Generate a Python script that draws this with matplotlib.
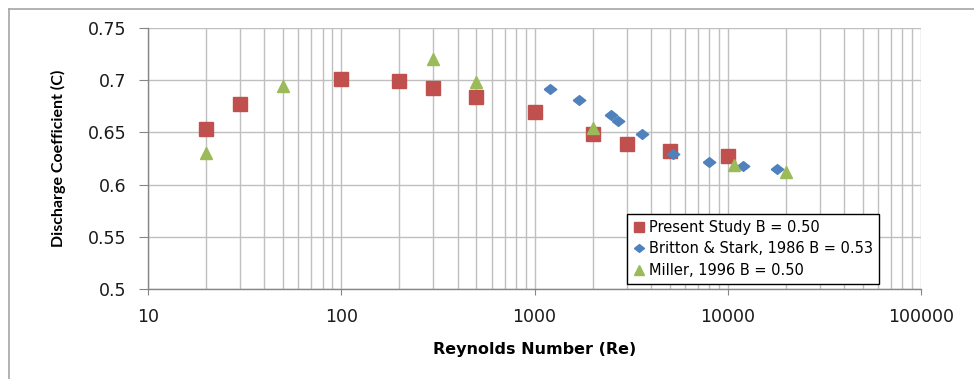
"""Discharge coefficient vs Reynolds number"""
import matplotlib
matplotlib.use("Agg")
import matplotlib.pyplot as plt
from matplotlib.lines import Line2D
from matplotlib.ticker import LogLocator, FixedLocator, NullFormatter

plt.rcParams['font.family'] = ['DejaVu Sans']

# Present Study B = 0.50
present_re = [20, 30, 100, 200, 300, 500, 1000, 2000, 3000, 5000, 10000]
present_c = [0.653, 0.677, 0.701, 0.699, 0.693, 0.684, 0.670, 0.648, 0.639, 0.632, 0.627]

# Britton & Stark, 1986 B = 0.53
britton_re = [1200, 1700, 2500, 2700, 3600, 5200, 8000, 12000, 18000]
britton_c = [0.692, 0.681, 0.667, 0.661, 0.648, 0.629, 0.622, 0.618, 0.615]

# Miller, 1996 B = 0.50
miller_re = [20, 50, 300, 500, 2000, 10800, 20000]
miller_c = [0.630, 0.694, 0.720, 0.698, 0.654, 0.619, 0.612]

x_ticks = [10, 100, 1000, 10000, 100000]
x_labels = ['10', '100', '1000', '10000', '100000']
y_ticks = [0.5, 0.55, 0.6, 0.65, 0.7, 0.75]
y_labels = ['0.5', '0.55', '0.6', '0.65', '0.7', '0.75']

colors = {
    'present': '#C0504D',
    'britton': '#4F81BD',
    'miller': '#9BBB59',
    'grid': '#BFBFBF',
    'axis': '#868686',
}

W, H = 974, 379
fig = plt.figure(figsize=(W / 100, H / 100), dpi=100)
ax = fig.add_axes([148 / W, 1 - 289 / H, (921 - 148) / W, (289 - 28) / H])

# Excel style flat diamond
diamond = [(-1, 0), (0, 0.78), (1, 0), (0, -0.78), (-1, 0)]

ax.plot(present_re, present_c, linestyle='none', marker='s', markersize=9.5,
        color=colors['present'], label='Present Study B = 0.50', zorder=3)
ax.plot(britton_re, britton_c, linestyle='none', marker=diamond, markersize=9,
        color=colors['britton'], label='Britton & Stark, 1986 B = 0.53', zorder=3)
ax.plot(miller_re, miller_c, linestyle='none', marker='^', markersize=8.5,
        color=colors['miller'], label='Miller, 1996 B = 0.50', zorder=3)

ax.set_xscale('log')
ax.set_xlim(10, 100000)
ax.set_ylim(0.5, 0.75)

ax.xaxis.set_major_locator(FixedLocator(x_ticks))
ax.set_xticklabels(x_labels)
ax.xaxis.set_minor_locator(LogLocator(base=10, subs=range(2, 10)))
ax.xaxis.set_minor_formatter(NullFormatter())
ax.set_yticks(y_ticks)
ax.set_yticklabels(y_labels)

ax.grid(True, which='major', axis='both', color=colors['grid'], linewidth=1.0, zorder=0)
ax.grid(True, which='minor', axis='x', color=colors['grid'], linewidth=1.0, zorder=0)
ax.set_axisbelow(True)

for side in ['top', 'right']:
    ax.spines[side].set_visible(False)
for side in ['left', 'bottom']:
    ax.spines[side].set_color(colors['axis'])
    ax.spines[side].set_linewidth(1.0)

ax.tick_params(axis='both', which='major', direction='out',
               color=colors['axis'], labelsize=12.5, labelcolor='#1a1a1a')
ax.tick_params(axis='x', which='major', length=4.5, pad=9)
ax.tick_params(axis='y', which='major', length=6.5, pad=9)
ax.tick_params(axis='x', which='minor', length=0)

ax.set_xlabel('Reynolds Number (Re)', fontsize=11.5, fontweight='bold', labelpad=12)
ax.set_ylabel('Discharge Coefficient (C)', fontsize=11.5, fontweight='bold',
              family=['Lato', 'DejaVu Sans'], labelpad=16)

leg = ax.legend(loc='upper left', bbox_to_anchor=(627 / W, 1 - 214 / H),
                bbox_transform=fig.transFigure, fontsize=10.5, frameon=True,
                fancybox=False, borderpad=0.4, labelspacing=0.45, markerscale=0.8,
                handlelength=0.8, handletextpad=0.3, borderaxespad=0)
leg.get_frame().set_edgecolor('black')
leg.get_frame().set_linewidth(1.0)
leg.get_frame().set_alpha(1)

# Outer chart area border (cut off at right and bottom)
fig.add_artist(Line2D([9 / W, 1.0], [1 - 9 / H, 1 - 9 / H], transform=fig.transFigure,
                      color='#A6A6A6', linewidth=1.2))
fig.add_artist(Line2D([9 / W, 9 / W], [0.0, 1 - 9 / H], transform=fig.transFigure,
                      color='#A6A6A6', linewidth=1.2))

plt.savefig('out.png', dpi=100)
